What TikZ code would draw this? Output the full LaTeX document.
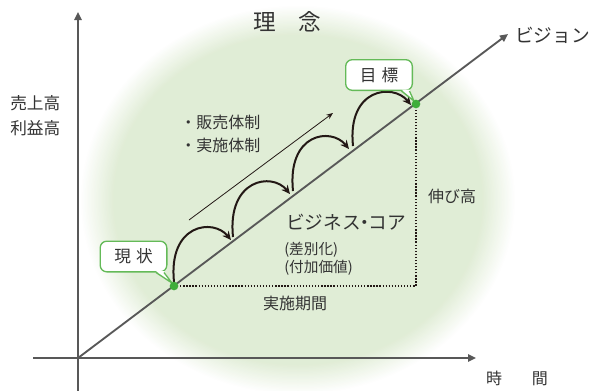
\documentclass[tikz,border=0pt]{standalone}
\usepackage{fontspec}
\newfontfamily\jp{Noto Sans CJK JP}
\usetikzlibrary{arrows.meta}
\definecolor{glowc}{HTML}{DFECD4}
\definecolor{axisc}{HTML}{585858}
\definecolor{txt}{HTML}{333333}
\definecolor{callg}{HTML}{64BA58}
\definecolor{dotg}{HTML}{3FAE3A}
\definecolor{arcc}{HTML}{231815}
\begin{document}
\begin{tikzpicture}[x=0.75pt,y=-0.75pt,
  axis/.style={draw=axisc,line width=1.4pt,-{Triangle[length=6pt,width=5.5pt]}},
  arcarrow/.style={draw=arcc,line width=1.5pt,-{Stealth[length=6.5pt,width=6pt]}},
  thinarrow/.style={draw=arcc,line width=0.6pt,-{Stealth[length=5pt,width=4pt]}},
  dotline/.style={draw=arcc,line width=1pt,dash pattern=on 1pt off 1.3pt},
  callout/.style={draw=callg,line width=1pt,fill=white,rounded corners=5pt,minimum width=50pt,minimum height=23pt,inner sep=0pt,font=\jp\fontsize{12.5}{14}\selectfont,text=txt},
  gdot/.style={circle,fill=dotg,minimum size=6.5pt,inner sep=0pt},
  lbl/.style={inner sep=0pt,text=txt,font=\jp\fontsize{#1}{#1}\selectfont},
  lbl/.default=12
]
\useasboundingbox (0,0) rectangle (593,390);
% glow: concentric ellipses fading from white to green
\foreach \i in {0,...,24}{
  \pgfmathsetmacro{\pc}{\i*4}
  \pgfmathsetmacro{\rx}{218-\i*1.4}
  \pgfmathsetmacro{\ry}{195-\i*1.25}
  \fill[glowc!\pc!white] (298,200) ellipse ({\rx} and {\ry});
}
% coordinates
\coordinate (O) at (78,358);
\coordinate (Ytop) at (78,12);
\coordinate (Ybot) at (78,392);
\coordinate (Xl) at (33,358);
\coordinate (Xr) at (476,358);
\coordinate (V) at (508,34);
\coordinate (corner) at (416,286);
% axes
\draw[axis] (Ybot) -- (Ytop);
\draw[axis] (Xl) -- (Xr);
\draw[axis] (O) -- (V);
% dotted
\coordinate (p0) at (174,286);
\coordinate (p4) at (416,104);
\draw[dotline] (p0) -- (corner) -- (p4);
% arcs
\coordinate (S0) at (174,282); \coordinate (E0) at (231,240);
\coordinate (S1) at (233,237); \coordinate (E1) at (290,194);
\coordinate (S2) at (293,191); \coordinate (E2) at (349,149);
\coordinate (S3) at (353,146); \coordinate (E3) at (411,105);
\draw[arcarrow] (S0) .. controls +(-6,-58) and +(-18,-22) .. (E0);
\draw[arcarrow] (S1) .. controls +(-6,-58) and +(-18,-22) .. (E1);
\draw[arcarrow] (S2) .. controls +(-6,-58) and +(-18,-22) .. (E2);
\draw[arcarrow] (S3) .. controls +(-6,-58) and +(-18,-22) .. (E3);
% thin arrow
\coordinate (T1) at (189,220);
\coordinate (T2) at (333,113);
\draw[thinarrow] (T1) -- (T2);
% callouts
\node[callout] (genjo) at (133.5,256.5) {現\hspace{0.3em}状};
\coordinate (tipA) at (172,283);
\fill[white] ([shift={(-11.5,-1.5)}]genjo.south east) -- (tipA) -- ([shift={(-3.5,-1.5)}]genjo.south east) -- cycle;
\draw[callg,line width=1pt,line join=round] ([shift={(-11.5,0)}]genjo.south east) -- (tipA) -- ([shift={(-3.5,0)}]genjo.south east);
\node[callout] (mokuhyo) at (379,75) {目\hspace{0.3em}標};
\coordinate (tipB) at (414,101);
\fill[white] ([shift={(-11.5,-1.5)}]mokuhyo.south east) -- (tipB) -- ([shift={(-3.5,-1.5)}]mokuhyo.south east) -- cycle;
\draw[callg,line width=1pt,line join=round] ([shift={(-11.5,0)}]mokuhyo.south east) -- (tipB) -- ([shift={(-3.5,0)}]mokuhyo.south east);
% dots
\node[gdot] (d0) at (p0) {};
\node[gdot] (d1) at (p4) {};
% labels
\node[lbl=17] (rinen) at (287,22) {理\hspace{1em}念};
\node[lbl=14,anchor=west] (vision) at (515,35) {ビジョン};
\node[lbl=12.5,anchor=west] (uriage) at (10,103) {売上高};
\node[lbl=12.5,anchor=west] (rieki) at (10,128) {利益高};
\node[lbl=12,anchor=west] (hanbai) at (180,122) {・販売体制};
\node[lbl=12,anchor=west] (jisshi) at (180,145) {・実施体制};
\node[lbl=14] (bcore) at (346,222) {ビジネス\kern-0.3em・\kern-0.3emコア};
\node[lbl=11,anchor=west] (sabetsu) at (284,250) {(差別化)};
\node[lbl=11,anchor=west] (fuka) at (284,268) {(付加価値)};
\node[lbl=12] (nobi) at (452,196) {伸び高};
\node[lbl=12] (kikan) at (295,303) {実施期間};
\node[lbl=12] (jikan) at (517,378) {時\hspace{1.85em}間};
\end{tikzpicture}
\end{document}
